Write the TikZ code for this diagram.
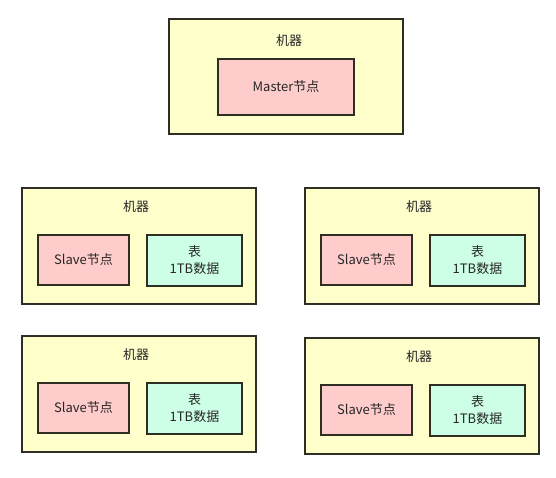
\documentclass[tikz,border=0pt]{standalone}
\usepackage{fontspec}
\setmainfont{Noto Sans CJK SC}
\definecolor{machfill}{HTML}{FFFFCC}
\definecolor{slavefill}{HTML}{FFCCCC}
\definecolor{tabfill}{HTML}{CCFFE6}
\definecolor{edge}{HTML}{2E2E22}
\tikzset{
  box/.style={draw=edge, line width=1.8pt},
  machine/.style={box, fill=machfill},
  slave/.style={box, fill=slavefill},
  tabbox/.style={box, fill=tabfill},
  lbl/.style={font=\fontsize{13}{15}\selectfont, text=black!85, align=center, inner sep=0pt}
}
\begin{document}
\begin{tikzpicture}[x=1pt,y=-1pt]
\useasboundingbox (0,0) rectangle (556,478);
% top machine
\draw[machine] (169,19) rectangle (403,134);
\node[lbl] (m0) at (289,41) {机器};
\draw[slave] (218,59) rectangle (354,115);
\node[lbl] (master) at (286,87) {Master节点};
% machines
\foreach \ox/\oy/\n in {22/188/a, 305/188/b, 22/336/c, 305/338/d}{
  \draw[machine] (\ox,\oy) rectangle ++(234,116);
  \node[lbl] (lab\n) at (\ox+114,\oy+19) {机器};
  \draw[slave] (\ox+16,\oy+47) rectangle ++(91,50);
  \node[lbl] (slave\n) at (\ox+61.5,\oy+72) {Slave节点};
  \draw[tabbox] (\ox+125,\oy+47) rectangle ++(95,51);
  \node[lbl,font=\fontsize{13}{17}\selectfont] (tab\n) at (\ox+172.5,\oy+72) {表\\1TB数据};
}
\end{tikzpicture}
\end{document}
